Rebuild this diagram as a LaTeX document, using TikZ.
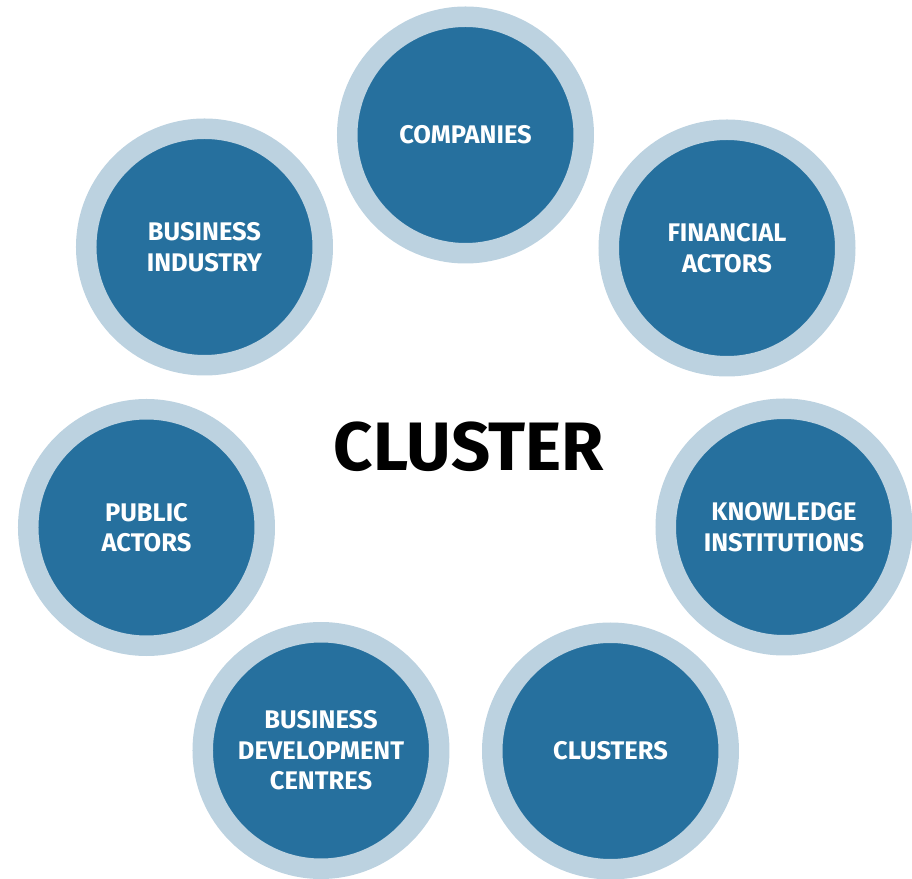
\documentclass[tikz,border=0pt]{standalone}
\usepackage{fontspec}
\setmainfont{Fira Sans}
\definecolor{ringblue}{RGB}{188,210,224}
\definecolor{coreblue}{RGB}{38,112,158}
\tikzset{
  actor/.style={circle, fill=coreblue, draw=ringblue, line width=0.41cm,
    minimum size=4.73cm, inner sep=0pt, text=white, align=center,
    font=\fontsize{14.5}{17.4}\selectfont\bfseries},
  hub/.style={font=\fontsize{39}{44}\selectfont\bfseries, text=black}
}
\begin{document}
\begin{tikzpicture}
      \useasboundingbox (-9.31,-8.38) rectangle (8.93,9.2);
      \draw
        (0,6.5) node[actor] (companies){COMPANIES}
        (5.23,4.24) node[actor] (financial){FINANCIAL\\ACTORS}
        (6.37,-1.34) node[actor] (knowledge){KNOWLEDGE\\INSTITUTIONS}
        (2.9,-5.82) node[actor] (clusters){CLUSTERS}
        (-2.89,-5.81) node[actor] (bdc){BUSINESS\\DEVELOPMENT\\CENTRES}
        (-6.38,-1.35) node[actor] (public){PUBLIC\\ACTORS}
        (-5.22,4.26) node[actor] (industry){BUSINESS\\INDUSTRY};
      \node[hub] (cluster) at (0.07,0.26) {CLUSTER};
    \end{tikzpicture}
\end{document}
